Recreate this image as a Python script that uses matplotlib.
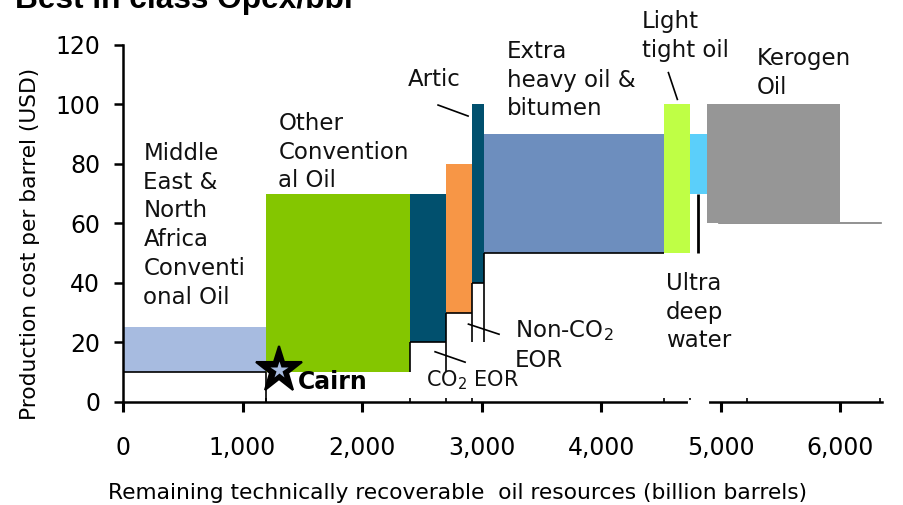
import matplotlib
matplotlib.use("Agg")
import matplotlib.pyplot as plt
from matplotlib.ticker import FuncFormatter

# ---------------- data ----------------
categories = ["Middle East & North Africa Conventional Oil", "Other Conventional Oil",
              "CO2 EOR", "Non-CO2 EOR", "Artic", "Extra heavy oil & bitumen",
              "Light tight oil", "Ultra deep water", "Kerogen Oil"]
x_start = [0, 1200, 2400, 2700, 2920, 3020, 4530, 4740, 4890]
x_end = [1200, 2400, 2700, 2920, 3020, 4530, 4740, 4890, 6000]
cost_low = [10, 10, 20, 30, 40, 50, 50, 70, 60]
cost_high = [25, 70, 70, 80, 100, 90, 100, 90, 100]
bar_colors = ["#A7BBE0", "#84C600", "#01506E", "#F79646", "#01506E",
              "#6D8EBE", "#BFFF45", "#5BCFFA", "#969696"]

# floor outline (black) : horizontal floors drawn for these bars
floor_bars = [0, 2, 3, 4, 5]
# vertical connectors: (x, y_from, y_to)
connector_x = [1200, 2400, 2700, 2920, 3020, 4814]
connector_y0 = [0, 10, 10, 20, 20, 50]
connector_y1 = [10, 20, 30, 40, 50, 70]
kerogen_tail = [4990, 6340]   # grey floor line at 60

cairn_x, cairn_y = 1308, 10.8

yticks = [0, 20, 40, 60, 80, 100, 120]
xticks = [0, 1000, 2000, 3000, 4000, 5000, 6000]
xminor = [1200, 2400, 2700, 2920, 4530, 4740, 5220, 6330]

# ---------------- figure ----------------
W, H = 904, 505
fig = plt.figure(figsize=(W / 100, H / 100), dpi=100)
ax_left, ax_right, ax_top, ax_bottom = 123, 882, 45, 401.7
ax = fig.add_axes([ax_left / W, 1 - ax_bottom / H,
                   (ax_right - ax_left) / W, (ax_bottom - ax_top) / H])
ax.set_xlim(0, 6350)
ax.set_ylim(0, 120)

widths = [e - s for s, e in zip(x_start, x_end)]
heights = [h - l for h, l in zip(cost_high, cost_low)]
ax.bar(x_start, heights, width=widths, bottom=cost_low, align="edge",
       color=bar_colors, edgecolor="none", zorder=2)

for i in floor_bars:
    ax.plot([x_start[i], x_end[i]], [cost_low[i], cost_low[i]],
            color="black", lw=1.2, zorder=3, solid_capstyle="butt")
for x, y0, y1 in zip(connector_x, connector_y0, connector_y1):
    ax.plot([x, x], [y0, y1], color="black",
            lw=2.0 if x == 4814 else 1.2, zorder=3, solid_capstyle="butt")
ax.plot(kerogen_tail, [60, 60], color="#7f7f7f", lw=1.2, zorder=1.5)

# Cairn star (black star with small light centre)
ax.plot([cairn_x], [cairn_y], marker="*", ms=35, mec="black", mew=1.5,
        mfc="black", zorder=6, clip_on=False)
ax.plot([cairn_x], [cairn_y], marker="*", ms=13, mec="none",
        mfc="#A7BBE0", zorder=7, clip_on=False)
ax.text(1464, 4.2, "Cairn", fontsize=17, fontweight="bold",
        family="DejaVu Sans", va="baseline", ha="left", zorder=6)

# spines / ticks
for s in ["top", "right"]:
    ax.spines[s].set_visible(False)
ax.spines["left"].set_linewidth(1.8)
ax.spines["bottom"].set_linewidth(1.8)
ax.set_yticks(yticks)
ax.set_xticks(xticks)
ax.set_xticks(xminor, minor=True)
ax.xaxis.set_major_formatter(FuncFormatter(lambda v, p: f"{int(v):,}"))
ax.tick_params(axis="y", direction="out", length=6.5, width=1.8, pad=10,
               labelsize=17)
ax.tick_params(axis="x", which="major", direction="out", length=7, width=2.2,
               pad=18, labelsize=17)
ax.tick_params(axis="x", which="minor", direction="in", length=3, width=1.2)
ax.plot([4740, 4890], [0, 0], color="white", lw=3, clip_on=False, zorder=5)

# labels on chart
lab_kw = dict(fontsize=16.5, va="top", ha="left", color="#111111",
              family="DejaVu Sans", linespacing=1.32)
ax.text(170, 87.4, "Middle\nEast &\nNorth\nAfrica\nConventi\nonal Oil", **lab_kw)
ax.text(1300, 97.5, "Other\nConvention\nal Oil", **lab_kw)
ax.text(2385, 112.3, "Artic", clip_on=False, **lab_kw)
ax.text(3213, 121.7, "Extra\nheavy oil &\nbitumen", **lab_kw)
ax.text(4341, 131.8, "Light\ntight oil", **lab_kw)
ax.text(5303, 119.4, "Kerogen\nOil", **lab_kw)
ax.text(4544, 43.7, "Ultra\ndeep\nwater", **lab_kw)
ax.text(3280, 28, "Non-CO$_2$\nEOR", **lab_kw)
ax.text(2536, 11.2, "CO$_2$ EOR", **dict(lab_kw, fontsize=15))

# leader lines
leaders_x = [[2636, 2887], [4563, 4638], [2890, 3146], [2611, 2862]]
leaders_y = [[99.8, 96.1], [110.7, 101.7], [26.1, 22.7], [16.8, 13.3]]
for lx, ly in zip(leaders_x, leaders_y):
    ax.plot(lx, ly, color="black", lw=1.2, zorder=4, clip_on=False)

# axis titles
fig.text(458 / W, 1 - 493 / H,
         "Remaining technically recoverable  oil resources (billion barrels)",
         ha="center", va="center", fontsize=15.7, family="DejaVu Sans")
fig.text(30 / W, 1 - 244 / H, "Production cost per barrel (USD)", rotation=90,
         ha="center", va="center", fontsize=15.7, family="DejaVu Sans")

# title (cut off at top in the original)
fig.text(15 / W, 1 - 8 / H, "Best in class Opex/bbl", fontsize=22.8,
         fontweight="bold", family="Liberation Sans", va="baseline", ha="left")

fig.savefig("out.png", dpi=100)
